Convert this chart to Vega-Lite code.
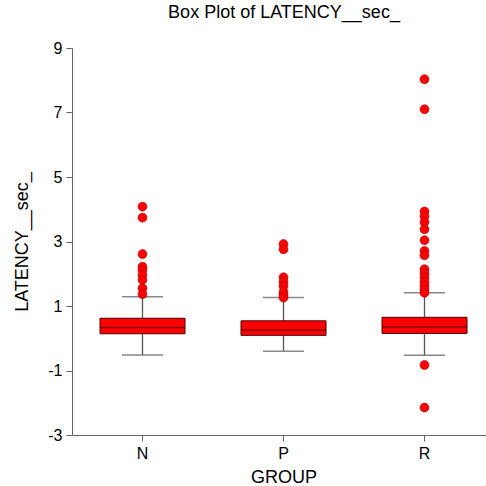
{
  "$schema": "https://vega.github.io/schema/vega-lite/v6.json",
  "width": 414,
  "height": 387,
  "autosize": "none",
  "padding": {"left": 72, "top": 48, "right": 0, "bottom": 51},
  "background": "white",
  "config": {
    "view": {"stroke": null},
    "font": "Liberation Sans"
  },
  "title": {
    "text": "Box Plot of LATENCY__sec_",
    "fontSize": 18,
    "fontWeight": "normal",
    "font": "Liberation Sans",
    "color": "#000",
    "offset": 18,
    "dx": 5
  },
  "datasets": {
    "summary": [
      {"GROUP": "N", "lower": -0.52, "q1": 0.14, "median": 0.33, "q3": 0.62, "upper": 1.29},
      {"GROUP": "P", "lower": -0.40, "q1": 0.09, "median": 0.25, "q3": 0.54, "upper": 1.26},
      {"GROUP": "R", "lower": -0.53, "q1": 0.15, "median": 0.36, "q3": 0.65, "upper": 1.41}
    ],
    "outliers": [
      {"GROUP": "N", "value": 4.08},
      {"GROUP": "N", "value": 3.74},
      {"GROUP": "N", "value": 2.61},
      {"GROUP": "N", "value": 2.22},
      {"GROUP": "N", "value": 2.12},
      {"GROUP": "N", "value": 1.96},
      {"GROUP": "N", "value": 1.81},
      {"GROUP": "N", "value": 1.55},
      {"GROUP": "N", "value": 1.37},
      {"GROUP": "P", "value": 2.92},
      {"GROUP": "P", "value": 2.76},
      {"GROUP": "P", "value": 1.89},
      {"GROUP": "P", "value": 1.75},
      {"GROUP": "P", "value": 1.62},
      {"GROUP": "P", "value": 1.44},
      {"GROUP": "P", "value": 1.34},
      {"GROUP": "P", "value": 1.26},
      {"GROUP": "R", "value": 8.03},
      {"GROUP": "R", "value": 7.10},
      {"GROUP": "R", "value": 3.93},
      {"GROUP": "R", "value": 3.78},
      {"GROUP": "R", "value": 3.60},
      {"GROUP": "R", "value": 3.38},
      {"GROUP": "R", "value": 3.04},
      {"GROUP": "R", "value": 2.71},
      {"GROUP": "R", "value": 2.57},
      {"GROUP": "R", "value": 2.14},
      {"GROUP": "R", "value": 2.01},
      {"GROUP": "R", "value": 1.89},
      {"GROUP": "R", "value": 1.75},
      {"GROUP": "R", "value": 1.64},
      {"GROUP": "R", "value": 1.52},
      {"GROUP": "R", "value": 1.41},
      {"GROUP": "R", "value": -0.83},
      {"GROUP": "R", "value": -2.15}
    ]
  },
  "encoding": {
    "x": {
      "field": "GROUP",
      "type": "nominal",
      "scale": {"type": "band", "paddingInner": 0, "paddingOuter": 0, "domain": ["N", "P", "R"], "range": [0, 423]},
      "axis": {
        "title": "GROUP",
        "labelAngle": 0,
        "labelFontSize": 16,
        "titleFontSize": 18,
        "titleFontWeight": "normal",
        "labelColor": "#000",
        "titleColor": "#000",
        "domainColor": "#666",
        "tickColor": "#666",
        "tickSize": 6,
        "labelPadding": 4,
        "titlePadding": 7,
        "labelFont": "Liberation Sans",
        "titleFont": "Liberation Sans"
      }
    }
  },
  "layer": [
    {
      "data": {"name": "summary"},
      "mark": {"type": "rule", "color": "#555", "strokeWidth": 1.3},
      "encoding": {
        "y": {
          "field": "lower",
          "type": "quantitative",
          "scale": {"domain": [-3, 9], "nice": false, "zero": false},
          "axis": {
            "title": "LATENCY__sec_",
            "values": [-3, -1, 1, 3, 5, 7, 9],
            "labelExpr": "replace(datum.label, '\u2212', '-')",
            "grid": false,
            "labelFontSize": 16,
            "titleFontSize": 18,
            "titleFontWeight": "normal",
            "labelColor": "#000",
            "titleColor": "#000",
            "domainColor": "#666",
            "tickColor": "#666",
            "tickSize": 6,
            "labelPadding": 4,
            "titlePadding": 16,
            "labelFont": "Liberation Sans",
            "titleFont": "Liberation Sans"
          }
        },
        "y2": {"field": "upper"}
      }
    },
    {
      "data": {"name": "summary"},
      "mark": {"type": "tick", "color": "#555", "size": 41, "thickness": 1.5},
      "encoding": {"y": {"field": "lower", "type": "quantitative"}}
    },
    {
      "data": {"name": "summary"},
      "mark": {"type": "tick", "color": "#555", "size": 41, "thickness": 1.5},
      "encoding": {"y": {"field": "upper", "type": "quantitative"}}
    },
    {
      "data": {"name": "summary"},
      "mark": {"type": "bar", "color": "#ff0000", "stroke": "#4a0000", "strokeWidth": 1, "size": 85},
      "encoding": {
        "y": {"field": "q1", "type": "quantitative"},
        "y2": {"field": "q3"}
      }
    },
    {
      "data": {"name": "summary"},
      "mark": {"type": "tick", "color": "#4a0000", "size": 85, "thickness": 1.5},
      "encoding": {"y": {"field": "median", "type": "quantitative"}}
    },
    {
      "data": {"name": "outliers"},
      "mark": {"type": "point", "shape": "circle", "filled": true, "fill": "#ff0000", "stroke": "#a00000", "strokeWidth": 0.6, "size": 80, "opacity": 1},
      "encoding": {"y": {"field": "value", "type": "quantitative"}}
    }
  ]
}
